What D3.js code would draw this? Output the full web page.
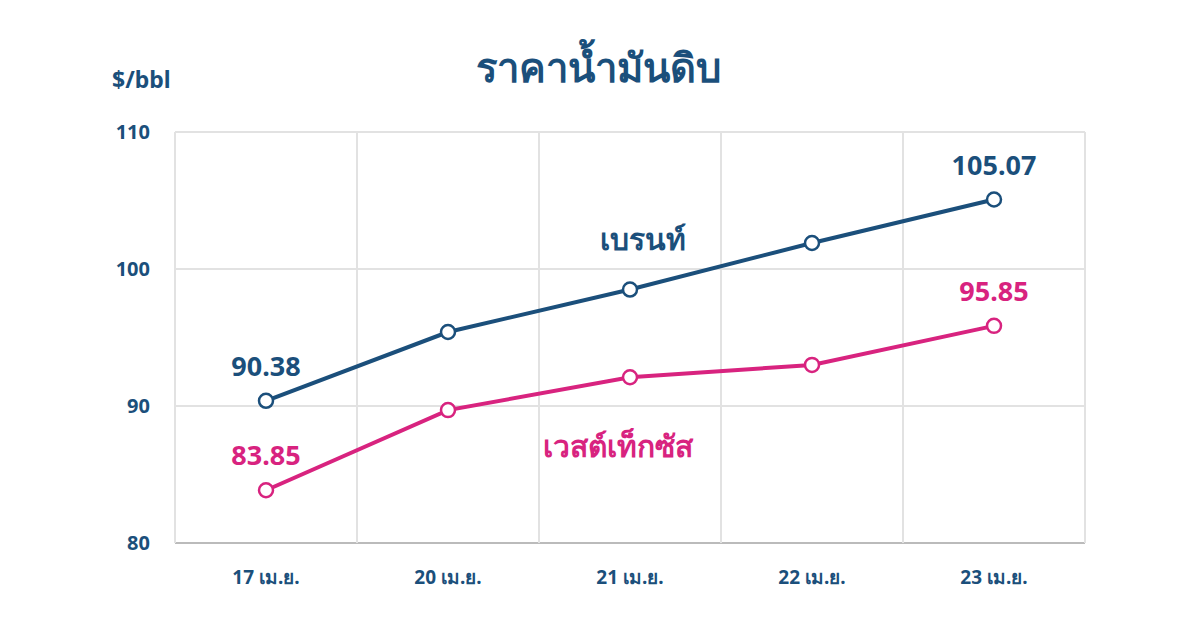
<!DOCTYPE html>
<html><head><meta charset="utf-8">
<script src="https://cdn.jsdelivr.net/npm/d3@7"></script>
<style>body{margin:0;background:#fff;font-family:"Noto Sans","DejaVu Sans",sans-serif}</style>
</head><body>
<svg id="c" width="1200" height="641"></svg>
<script>
var categories = ['17 เม.ย.', '20 เม.ย.', '21 เม.ย.', '22 เม.ย.', '23 เม.ย.'];
var brent = [90.38, 95.4, 98.5, 101.9, 105.07];
var wti = [83.85, 89.7, 92.1, 93.0, 95.85];
var yTicks = [80, 90, 100, 110];

var svg = d3.select('#c');
var blue = '#1b4f7b', pink = '#d8237f';
var x = d3.scaleBand().domain(categories).range([175, 1085]);
var y = d3.scaleLinear().domain([80, 110]).range([543, 132]);

// grid
svg.selectAll('.h').data(yTicks).enter().append('line')
  .attr('x1', 175).attr('x2', 1085).attr('y1', d => y(d)).attr('y2', d => y(d))
  .attr('stroke', d => d == 80 ? '#bbb' : '#e2e2e2').attr('stroke-width', 2);
var xs = categories.map(c => x(c)).concat([1085]);
svg.selectAll('.v').data(xs).enter().append('line')
  .attr('x1', d => d).attr('x2', d => d).attr('y1', 132).attr('y2', 543)
  .attr('stroke', '#e2e2e2').attr('stroke-width', 2);

svg.selectAll('.yt').data(yTicks).enter().append('text')
  .attr('x', 150).attr('y', d => y(d) + 7).attr('text-anchor', 'end')
  .attr('fill', blue).attr('font-weight', 'bold').attr('font-size', 20).text(d => d);
svg.selectAll('.xt').data(categories).enter().append('text')
  .attr('x', d => x(d) + x.bandwidth() / 2).attr('y', 584).attr('text-anchor', 'middle')
  .attr('fill', blue).attr('font-weight', 'bold').attr('font-size', 19).text(d => d);

svg.append('text').attr('x', 598).attr('y', 82).attr('text-anchor', 'middle')
  .attr('fill', blue).attr('font-weight', 'bold').attr('font-size', 40).text('ราคาน้ำมันดิบ');
svg.append('text').attr('x', 112).attr('y', 88)
  .attr('fill', blue).attr('font-weight', 'bold').attr('font-size', 23).text('$/bbl');

function series(vals, col, name, nx, ny) {
  var line = d3.line().x((d, i) => x(categories[i]) + x.bandwidth() / 2).y(d => y(d));
  svg.append('path').attr('d', line(vals)).attr('fill', 'none').attr('stroke', col).attr('stroke-width', 4);
  svg.selectAll(null).data(vals).enter().append('circle')
    .attr('cx', (d, i) => x(categories[i]) + x.bandwidth() / 2).attr('cy', d => y(d)).attr('r', 7)
    .attr('fill', '#fff').attr('stroke', col).attr('stroke-width', 2.5);
  [0, vals.length - 1].forEach(function (i) {
    svg.append('text').attr('x', x(categories[i]) + x.bandwidth() / 2).attr('y', y(vals[i]) - 25)
      .attr('text-anchor', 'middle').attr('fill', col).attr('font-weight', 'bold').attr('font-size', 27)
      .text(vals[i].toFixed(2));
  });
  svg.append('text').attr('x', nx).attr('y', ny).attr('text-anchor', 'middle')
    .attr('fill', col).attr('font-weight', 'bold').attr('font-size', 30).text(name);
}
series(brent, blue, 'เบรนท์', 643, 250);
series(wti, pink, 'เวสต์เท็กซัส', 618, 457);
</script>
</body></html>
